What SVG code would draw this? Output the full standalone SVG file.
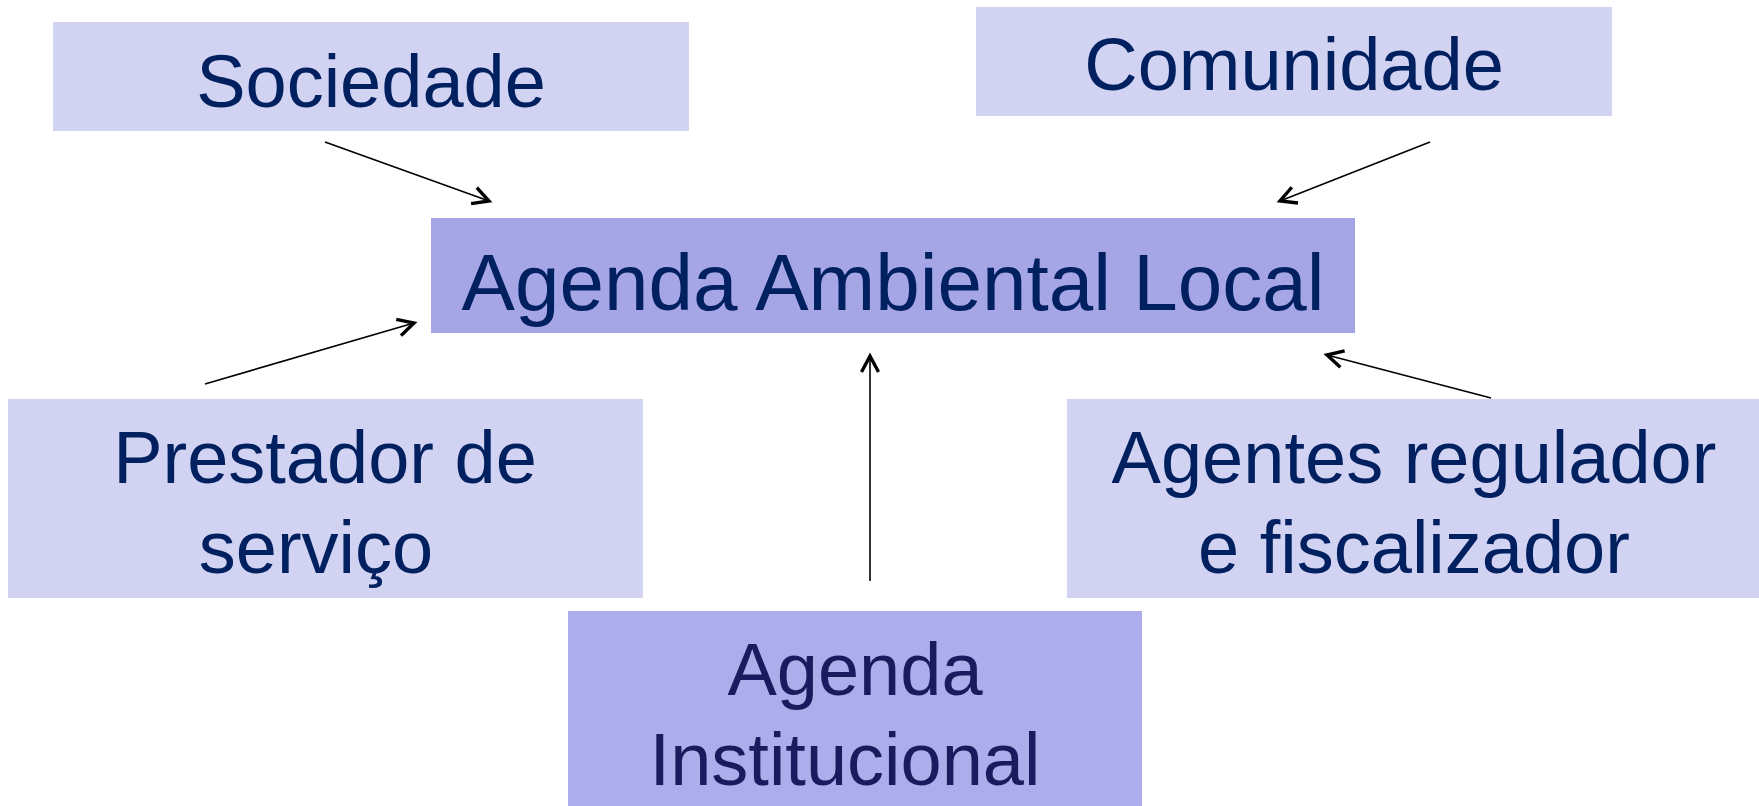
<svg xmlns="http://www.w3.org/2000/svg" width="1759" height="806" viewBox="0 0 1759 806">
  <defs>
    <style>
      .light { fill: #D2D2F3; }
      .main { fill: #A6A6E7; }
      .inst { fill: #ADADEB; }
      text { font-family: "Liberation Sans", Arial, sans-serif; text-anchor: middle; fill: #002060; }
      .t74 { font-size: 74px; }
      .t80 { font-size: 80px; }
      .tinst { fill: #1A1A5E; }
      .conn { stroke: #000; stroke-width: 1.6; fill: none; marker-end: url(#arr); }
    </style>
    <marker id="arr" markerUnits="userSpaceOnUse" markerWidth="34" markerHeight="34" viewBox="-22 -17 34 34" refX="0" refY="0" orient="auto">
      <path d="M -16 -8.5 L 0 0 L -16 8.5" fill="none" stroke="#000" stroke-width="3.4" stroke-linejoin="miter"/>
    </marker>
  </defs>
  <rect width="1759" height="806" fill="#FFFFFF"/>

  <g id="sociedade">
    <rect class="light" x="53" y="22" width="636" height="109"/>
    <text class="t74" x="371" y="107">Sociedade</text>
  </g>
  <g id="comunidade">
    <rect class="light" x="976" y="7" width="636" height="109"/>
    <text class="t74" x="1294" y="90">Comunidade</text>
  </g>
  <g id="agenda-ambiental">
    <rect class="main" x="431" y="218" width="924" height="115"/>
    <text class="t80" x="893" y="310">Agenda Ambiental Local</text>
  </g>
  <g id="prestador">
    <rect class="light" x="8" y="399" width="635" height="199"/>
    <text class="t74" x="325" y="483">Prestador de</text>
    <text class="t74" x="316" y="573">serviço</text>
  </g>
  <g id="agentes">
    <rect class="light" x="1067" y="399" width="692" height="199"/>
    <text class="t74" x="1414" y="483">Agentes regulador</text>
    <text class="t74" x="1414" y="573">e fiscalizador</text>
  </g>
  <g id="agenda-institucional">
    <rect class="inst" x="568" y="611" width="574" height="195"/>
    <text class="t74 tinst" x="855" y="695">Agenda</text>
    <text class="t74 tinst" x="845" y="785">Institucional</text>
  </g>

  <g id="connectors">
    <line class="conn" x1="325" y1="142" x2="489" y2="201"/>
    <line class="conn" x1="1430" y1="142" x2="1280" y2="201"/>
    <line class="conn" x1="205" y1="384" x2="414" y2="323"/>
    <line class="conn" x1="1491" y1="398" x2="1327" y2="355"/>
    <line class="conn" x1="870" y1="581" x2="870" y2="356"/>
  </g>
</svg>
